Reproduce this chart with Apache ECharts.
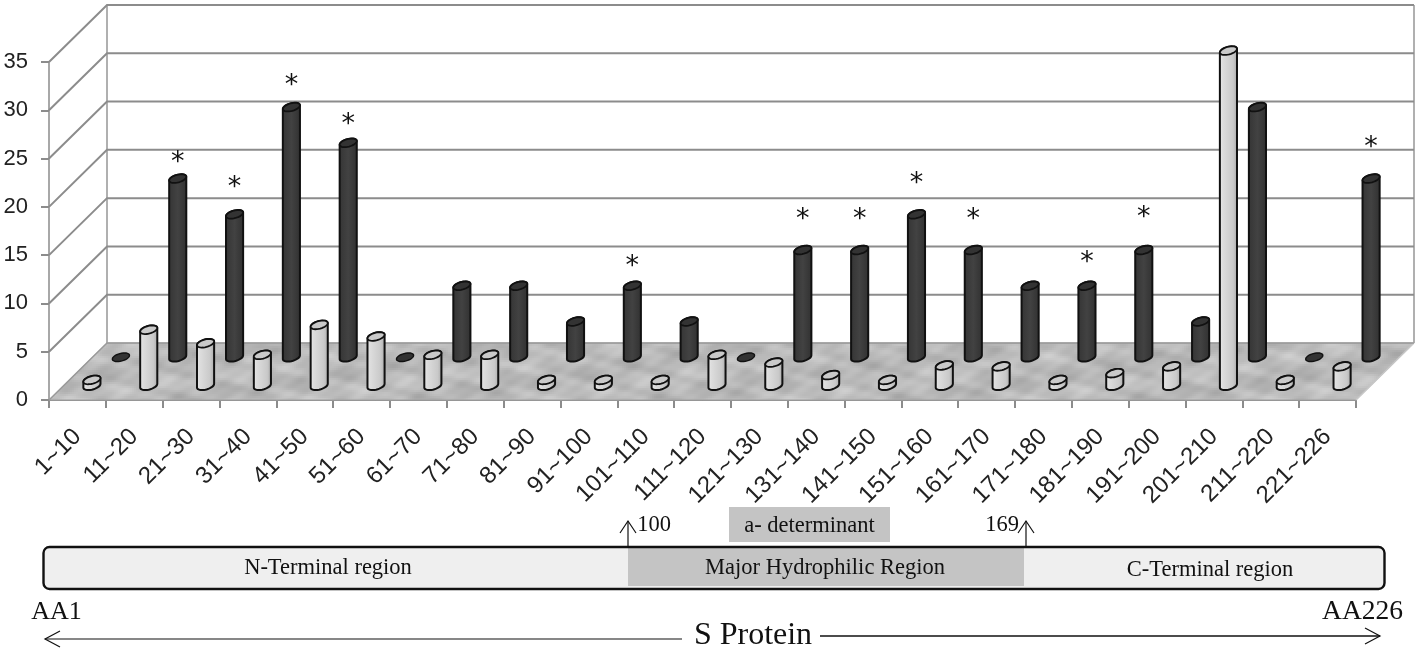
<!DOCTYPE html>
<html><head><meta charset="utf-8">
<style>html,body{margin:0;padding:0;background:#fff}#c{width:1418px;height:651px}</style>
<script src="https://cdn.jsdelivr.net/npm/echarts@6/dist/echarts.min.js"></script>
</head><body><div id="c"></div>
<script>
const categories = ['1~10','11~20','21~30','31~40','41~50','51~60','61~70','71~80','81~90','91~100','101~110','111~120','121~130','131~140','141~150','151~160','161~170','171~180','181~190','191~200','201~210','211~220','221~226'];
const yTicks = [0,5,10,15,20,25,30,35];
const frontValues = [0.6,5.8,4.4,3.2,6.3,5.1,3.2,3.2,0.6,0.6,0.6,3.2,2.4,1.1,0.6,2.1,2.0,0.6,1.3,2.0,34.7,0.6,2.0];
const backValues = [0,18.5,14.8,25.9,22.2,0,7.4,7.4,3.7,7.4,3.7,0,11.1,11.1,14.8,11.1,7.4,7.4,11.1,3.7,25.9,0,18.5];
const asteriskValues = [null,20.6,18,28.6,24.6,null,null,null,null,9.9,null,null,14.7,14.7,18.5,14.7,null,10.3,14.9,null,null,null,22.2];

const DX = 58, DY = -57;
const chart = echarts.init(document.getElementById('c'), null, {renderer:'canvas'});

function floorPattern(){
  const c = document.createElement('canvas'); c.width = 480; c.height = 120;
  const g = c.getContext('2d');
  for(let x=0;x<480;x+=2) for(let y=0;y<120;y+=2){
    const n = Math.sin(x*0.0262+y*0.157)+Math.sin(x*0.0785-y*0.262)+0.7*Math.sin(x*0.157+y*0.052)+0.5*Math.sin(x*0.262+y*0.419)+0.4*Math.sin(x*0.131-y*0.524);
    const v = Math.round(186+n*6.5);
    g.fillStyle = `rgb(${v},${v},${v})`; g.fillRect(x,y,2,2);
  }
  return {image:c, repeat:'repeat'};
}
const floorFill = floorPattern();

function ellipsePts(cx,cy,rx,ry,th,t0,t1,n){
  const out=[]; const c=Math.cos(th), s=Math.sin(th);
  for(let k=0;k<=n;k++){
    const t=t0+(t1-t0)*k/n, x=rx*Math.cos(t), y=ry*Math.sin(t);
    out.push([cx+x*c-y*s, cy+x*s+y*c]);
  }
  return out;
}
function cylinder(api, params, frac, palette){
  const i = api.value(0), v = api.value(1);
  const base = api.coord([i,0]), top = api.coord([i,v]);
  const ox = DX*frac, oy = DY*frac;
  const cx = base[0]+ox, by = base[1]+oy, ty = top[1]+oy;
  const rx=8.8, ry=3.8, th=-15*Math.PI/180;
  const t0 = Math.atan2(-ry*Math.sin(th), rx*Math.cos(th));
  const children=[];
  if(v>0){
    const pts = ellipsePts(cx,by,rx,ry,th,t0,t0+Math.PI,16).concat(ellipsePts(cx,ty,rx,ry,th,t0+Math.PI,t0+2*Math.PI,16));
    children.push({type:'polygon',shape:{points:pts},style:{
      fill:new echarts.graphic.LinearGradient(0,0,1,0,palette.body),stroke:'#111',lineWidth:2}});
    children.push({type:'polygon',shape:{points:ellipsePts(cx,ty,rx,ry,th,0,2*Math.PI,32)},style:{fill:palette.top,stroke:'#111',lineWidth:1.8}});
  } else {
    children.push({type:'polygon',shape:{points:ellipsePts(cx,by,rx,ry,th,0,2*Math.PI,32)},style:{fill:palette.top,stroke:'#111',lineWidth:1.4}});
  }
  return {type:'group',children};
}
const lightPal = {top:'#cacaca',body:[{offset:0,color:'#eeeeee'},{offset:0.2,color:'#dddddd'},{offset:0.75,color:'#c9c9c9'},{offset:1,color:'#a8a8a8'}]};
const darkPal = {top:'#333333',body:[{offset:0,color:'#343434'},{offset:0.5,color:'#424242'},{offset:1,color:'#303030'}]};

const serif = '"Liberation Serif"';
function txt(x,y,s,size,align){return {type:'text',silent:true,x,y,style:{text:s,font:`${size}px ${serif}`,fill:'#111',textAlign:align||'center',textVerticalAlign:'middle'}};}
function seg(pts,w){return {type:'polyline',silent:true,shape:{points:pts},style:{stroke:'#111',lineWidth:w||1.2,fill:null}};}
function rect(x,y,w,h,fill,extra){return {type:'rect',silent:true,shape:Object.assign({x,y,width:w,height:h},extra&&extra.shape||{}),style:Object.assign({fill},extra&&extra.style||{})};}

const graphics = [
  rect(729,507,161,35,'#c4c4c4'),
  rect(43.5,547,1341,42,'#efefef',{shape:{r:6}}),
  rect(628,548,396,38,'#c4c4c4'),
  rect(43.5,547,1341,42,null,{shape:{r:6},style:{stroke:'#111',lineWidth:2.4,fill:'transparent'}}),
  seg([[628,547],[628,521]]), seg([[620,533],[628,521],[636,533]]),
  seg([[1026,547],[1026,521]]), seg([[1018,533],[1026,521],[1034,533]]),
  seg([[45,639],[682,639]]), seg([[60,631],[45,639],[60,647]]),
  seg([[820,636],[1380,636]],1.6), seg([[1365,628],[1380,636],[1365,644]]),
  txt(328,568,'N-Terminal region',22.5),
  txt(825,568,'Major Hydrophilic Region',22.5),
  txt(1210,570,'C-Terminal region',22.5),
  txt(809.5,526,'a- determinant',22.5),
  txt(654,525,'100',22.5),
  txt(1002,525,'169',22.5),
  txt(56.5,612,'AA1',26),
  txt(1362.5,612,'AA226',27.5),
  txt(753,636,'S Protein',32)
];

const option = {
  animation:false,
  backgroundColor:'#fff',
  grid:{left:49,right:62,top:62,bottom:251,containLabel:false},
  xAxis:{type:'category',data:categories,boundaryGap:true,
    axisLine:{show:true,lineStyle:{color:'#8c8c8c',width:2}},
    axisTick:{show:true,length:8,alignWithLabel:false,lineStyle:{color:'#8c8c8c',width:2}},
    axisLabel:{interval:0,rotate:45,margin:16,verticalAlign:'top',padding:[0,12,0,0],fontSize:24,fontFamily:'"Liberation Sans"',color:'#222'},
    splitLine:{show:false}},
  yAxis:{type:'value',min:0,max:35,interval:5,
    axisLine:{show:true,lineStyle:{color:'#a8a8a8',width:2}},
    axisTick:{show:true,length:8,lineStyle:{color:'#8c8c8c',width:2}},
    axisLabel:{margin:21,fontSize:22,fontFamily:'"Liberation Sans"',color:'#222'},
    splitLine:{show:false}},
  graphic:graphics,
  series:[
    {type:'custom',coordinateSystem:'cartesian2d',clip:false,silent:true,z:1,encode:{x:0,y:1},
      data:yTicks.map(v=>[0,v]),
      renderItem(params,api){
        const v=api.value(1), band=api.size([1,0])[0];
        const p=api.coord([0,v]); const left=p[0]-band/2;
        const right=api.coord([categories.length-1,v])[0]+band/2;
        const ls={stroke:'#8c8c8c',lineWidth:2,fill:null};
        const ch=[];
        if(v===0){
          ch.push({type:'polygon',shape:{points:[[left,p[1]],[left+DX,p[1]+DY],[right+DX,p[1]+DY],[right,p[1]]]},style:{fill:floorFill,stroke:'#a0a0a0',lineWidth:1}});
          const t=api.coord([0,yTicks[yTicks.length-1]])[1];
          ch.push({type:'line',shape:{x1:left+DX,y1:p[1]+DY,x2:left+DX,y2:t+DY},style:{stroke:'#b0b0b0',lineWidth:2}});
          ch.push({type:'line',shape:{x1:right+DX,y1:p[1]+DY,x2:right+DX,y2:t+DY},style:{stroke:'#b0b0b0',lineWidth:2}});
          ch.push({type:'line',shape:{x1:right,y1:p[1],x2:right+DX,y2:p[1]+DY},style:{stroke:'#c8c8c8',lineWidth:1.5}});
        }
        ch.push({type:'polyline',shape:{points:[[left,p[1]],[left+DX,p[1]+DY],[right+DX,p[1]+DY]]},style:v===0?{stroke:'#9a9a9a',lineWidth:1.5,fill:null}:ls});
        return {type:'group',children:ch};
      }},
    {name:'Back',type:'custom',coordinateSystem:'cartesian2d',clip:false,silent:true,z:3,encode:{x:0,y:1},
      data:backValues.map((v,i)=>[i,v]),
      renderItem(p,api){return cylinder(api,p,0.75,darkPal);}},
    {name:'Front',type:'custom',coordinateSystem:'cartesian2d',clip:false,silent:true,z:4,encode:{x:0,y:1},
      data:frontValues.map((v,i)=>[i,v]),
      renderItem(p,api){return cylinder(api,p,0.25,lightPal);}},
    {name:'Asterisks',type:'custom',coordinateSystem:'cartesian2d',clip:false,silent:true,z:5,encode:{x:0,y:1},
      data:asteriskValues.map((v,i)=>[i,v]).filter(d=>d[1]!==null),
      renderItem(p,api){
        const c=api.coord([api.value(0),api.value(1)]);
        return {type:'text',x:c[0]+DX*0.75,y:c[1]+DY*0.75+5,style:{text:'*',font:'27px "DejaVu Sans"',fill:'#111',textAlign:'center',textVerticalAlign:'middle'}};
      }}
  ]
};
chart.setOption(option);
</script></body></html>
